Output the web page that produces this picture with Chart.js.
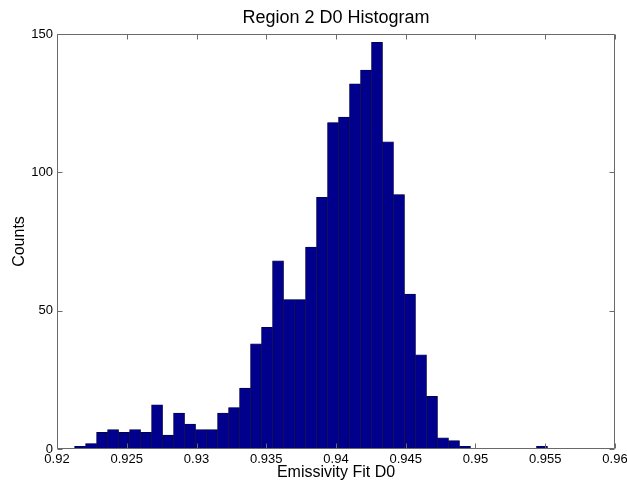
<!DOCTYPE html>
<html>
<head>
<meta charset="utf-8">
<title>Region 2 D0 Histogram</title>
<script src="https://cdn.jsdelivr.net/npm/chart.js@4.4.0/dist/chart.umd.min.js"></script>
<style>
  html, body { margin: 0; padding: 0; background: #ffffff; }
  #wrap { width: 627px; height: 482px; position: relative; }
</style>
</head>
<body>
<div id="wrap"><canvas id="hist"></canvas></div>
<script>
// Histogram bin centres (Emissivity Fit D0) and their counts
const binCenters = [
  0.921654, 0.922442, 0.923231, 0.924019, 0.924807, 0.925596, 0.926384, 0.927173,
  0.927961, 0.928749, 0.929538, 0.930326, 0.931114, 0.931903, 0.932691, 0.933480,
  0.934268, 0.935056, 0.935845, 0.936633, 0.937421, 0.938210, 0.938998, 0.939787,
  0.940575, 0.941363, 0.942152, 0.942940, 0.943728, 0.944517, 0.945305, 0.946094,
  0.946882, 0.947670, 0.948459, 0.949247, 0.950035, 0.950824, 0.951612, 0.952401,
  0.953189, 0.953977, 0.954766
];
const counts = [
  1, 2, 6, 7, 6, 7, 6, 16,
  5, 13, 9, 7, 7, 13, 15, 22,
  38, 44, 68, 54, 54, 73, 91, 118,
  120, 132, 137, 147, 111, 92, 56, 34,
  19, 4, 3, 1, 0, 0, 0, 0,
  0, 0, 1
];

// Axis ticks
const xTickValues = [0.92, 0.925, 0.93, 0.935, 0.94, 0.945, 0.95, 0.955, 0.96];
const xTickLabels = ['0.92', '0.925', '0.93', '0.935', '0.94', '0.945', '0.95', '0.955', '0.96'];
const yTickValues = [0, 50, 100, 150];
const yTickLabels = ['0', '50', '100', '150'];

const FONT = "'Liberation Sans', Arial, Helvetica, sans-serif";

// Boxed axes with short inward tick marks on all four sides
const boxAndTicks = {
  id: 'boxAndTicks',
  afterDatasetsDraw(chart) {
    const { ctx, chartArea: a, scales: { x, y } } = chart;
    const L = Math.round(a.left) + 0.5, R = Math.round(a.right) - 0.5;
    const T = Math.round(a.top) + 0.5, B = Math.round(a.bottom) - 0.5;
    const len = 5;
    ctx.save();
    ctx.strokeStyle = '#6a6a6a';
    ctx.lineWidth = 1;
    ctx.beginPath();
    ctx.rect(L, T, R - L, B - T);
    xTickValues.forEach(v => {
      const px = Math.round(x.getPixelForValue(v)) + 0.5;
      ctx.moveTo(px, B); ctx.lineTo(px, B - len);
      ctx.moveTo(px, T); ctx.lineTo(px, T + len);
    });
    yTickValues.forEach(v => {
      const py = Math.round(y.getPixelForValue(v)) + 0.5;
      ctx.moveTo(L, py); ctx.lineTo(L + len, py);
      ctx.moveTo(R, py); ctx.lineTo(R - len, py);
    });
    ctx.stroke();
    ctx.restore();
  }
};

new Chart(document.getElementById('hist'), {
  type: 'bar',
  data: {
    datasets: [{
      data: binCenters.map((c, i) => ({ x: c, y: counts[i] })),
      backgroundColor: '#00008c',
      borderColor: '#000030',
      borderWidth: 0.6,
      borderSkipped: false,
      categoryPercentage: 1.0,
      barPercentage: 1.0
    }]
  },
  options: {
    responsive: true,
    maintainAspectRatio: false,
    animation: false,
    devicePixelRatio: 1,
    layout: { padding: { left: 0, right: 12, top: 0, bottom: 0 } },
    plugins: {
      legend: { display: false },
      tooltip: { enabled: false },
      title: {
        display: true,
        fullSize: false,
        text: 'Region 2 D0 Histogram',
        color: '#000',
        font: { family: FONT, size: 18, weight: 'normal' },
        padding: { top: 7, bottom: 5.4 }
      }
    },
    scales: {
      x: {
        type: 'linear',
        min: 0.92,
        max: 0.96,
        offset: false,
        grid: { display: false, drawTicks: false, offset: false },
        border: { display: false },
        afterBuildTicks(scale) { scale.ticks = xTickValues.map(v => ({ value: v })); },
        ticks: {
          autoSkip: false,
          maxRotation: 0,
          padding: 3,
          color: '#000',
          font: { family: FONT, size: 13 },
          callback: (v, i) => xTickLabels[i]
        },
        title: {
          display: true,
          text: 'Emissivity Fit D0',
          color: '#000',
          font: { family: FONT, size: 16 },
          padding: { top: 0, bottom: 0 }
        },
        afterFit(scale) {
          scale.height = 33;
          scale.paddingLeft = 0;
          scale.paddingRight = 0;
        }
      },
      y: {
        type: 'linear',
        min: 0,
        max: 150,
        grid: { display: false, drawTicks: false },
        border: { display: false },
        afterBuildTicks(scale) { scale.ticks = yTickValues.map(v => ({ value: v })); },
        ticks: {
          padding: 4,
          color: '#000',
          font: { family: FONT, size: 13 },
          callback: (v, i) => yTickLabels[i]
        },
        title: {
          display: true,
          text: 'Counts',
          color: '#000',
          font: { family: FONT, size: 16 },
          padding: { top: 10, bottom: 0 }
        },
        afterFit(scale) {
          scale.width = 57;
          scale.paddingTop = 0;
          scale.paddingBottom = 0;
        }
      }
    }
  },
  plugins: [boxAndTicks]
});
</script>
</body>
</html>
